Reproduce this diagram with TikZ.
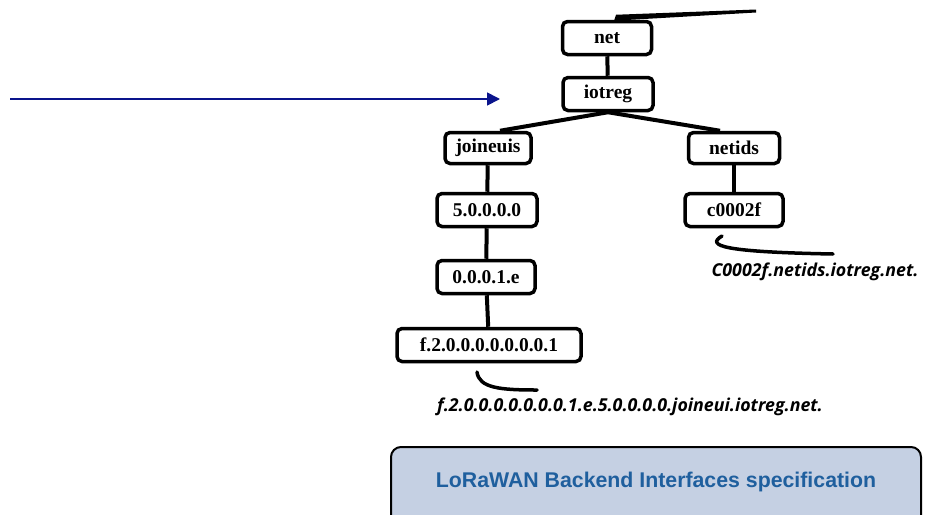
\documentclass[tikz,border=0pt]{standalone}
\usepackage{fontspec}
\setmainfont{Liberation Serif}
\newfontfamily\lblfont{Open Sans}
\newfontfamily\specfont{Liberation Sans}
\usetikzlibrary{arrows.meta,positioning}
\definecolor{cInk}{HTML}{000000}
\definecolor{cNavy}{HTML}{0A148C}
\definecolor{cSpec}{HTML}{C5D0E3}
\definecolor{cSpecText}{HTML}{1F5F9E}
\tikzset{
  dom/.style   ={rounded corners=5pt,draw=cInk,line width=3.5pt,fill=white,
                 inner sep=0pt,font=\fontsize{19.5}{22}\selectfont\bfseries,
                 minimum height=33pt},
  link/.style  ={line width=4pt,cInk},
  hook/.style  ={line width=3.5pt,cInk,line cap=round},
  fqdn/.style  ={font=\fontsize{17.8}{20}\selectfont\lblfont\bfseries\itshape,inner sep=0pt},
  pointer/.style={-{Triangle[length=13pt,width=13pt]},line width=1.8pt,cNavy},
  spec/.style  ={rounded corners=10pt,draw=cInk,line width=2pt,fill=cSpec},
}
\begin{document}
\begin{tikzpicture}[x=1pt,y=-1pt]
\useasboundingbox (0,0) rectangle (925,514);

% the tree of domain labels
\node[dom,minimum width=89pt]  (net)    at (607,38)  {net};
\node[dom,minimum width=90pt]  (iotreg) at (608,94)  {iotreg};
\node[dom,minimum width=86pt,minimum height=31pt] (joineuis) at (488,148) {joineuis};
\node[dom,minimum width=91pt,minimum height=31pt] (netids)   at (734,148) {netids};
\node[dom,minimum width=100pt] (eui5)   at (487,210) {5.0.0.0.0};
\node[dom,minimum width=98pt]  (cid)    at (734,210) {c0002f};
\node[dom,minimum width=98pt]  (eui1)   at (486,277) {0.0.0.1.e};
\node[dom,minimum width=184pt] (euif)   at (489,345) {f.2.0.0.0.0.0.0.0.1};

% tapering edge up to the root
\coordinate (rootend) at (756,9.5);
\fill[cInk] ([xshift=7pt,yshift=-1pt]net.north) -- ([xshift=9pt,yshift=5pt]net.north)
  -- (rootend) -- ([yshift=-3pt]rootend) -- cycle;

\draw[link] (net) -- (iotreg);
\draw[link] (iotreg.south) -- ([xshift=12pt]joineuis.north);
\draw[link] (iotreg.south) -- ([xshift=-14pt]netids.north);
\draw[link] (joineuis) -- (eui5);
\draw[link] (eui5) -- (eui1);
\draw[link] (eui1) -- (euif);
\draw[link] (netids) -- (cid);

% resulting names
\node[fqdn] (nameeui) at (630,407) {f.2.0.0.0.0.0.0.0.1.e.5.0.0.0.0.joineui.iotreg.net.};
\node[fqdn] (namecid) at (815,272) {C0002f.netids.iotreg.net.};

\coordinate (euitip) at (477,372);
\coordinate (euitail) at (537,390);
\draw[hook] (euitip) .. controls (479,388) and (500,390) .. (euitail);
\coordinate (cidtip) at (722,236);
\coordinate (cidtail) at (833,254);
\draw[hook] (cidtip) .. controls (705,246) and (725,252) .. (cidtail);

% pointer from the left
\coordinate (ptrstart) at (10,99);
\coordinate (ptrend) at (500,99);
\draw[pointer] (ptrstart) -- (ptrend);

% specification banner
\draw[spec] (391,447) rectangle (921,530);
\node[font=\fontsize{21.3}{24}\selectfont\specfont\bfseries,text=cSpecText] (spec) at (656,482)
  {LoRaWAN Backend Interfaces specification};
\end{tikzpicture}
\end{document}
